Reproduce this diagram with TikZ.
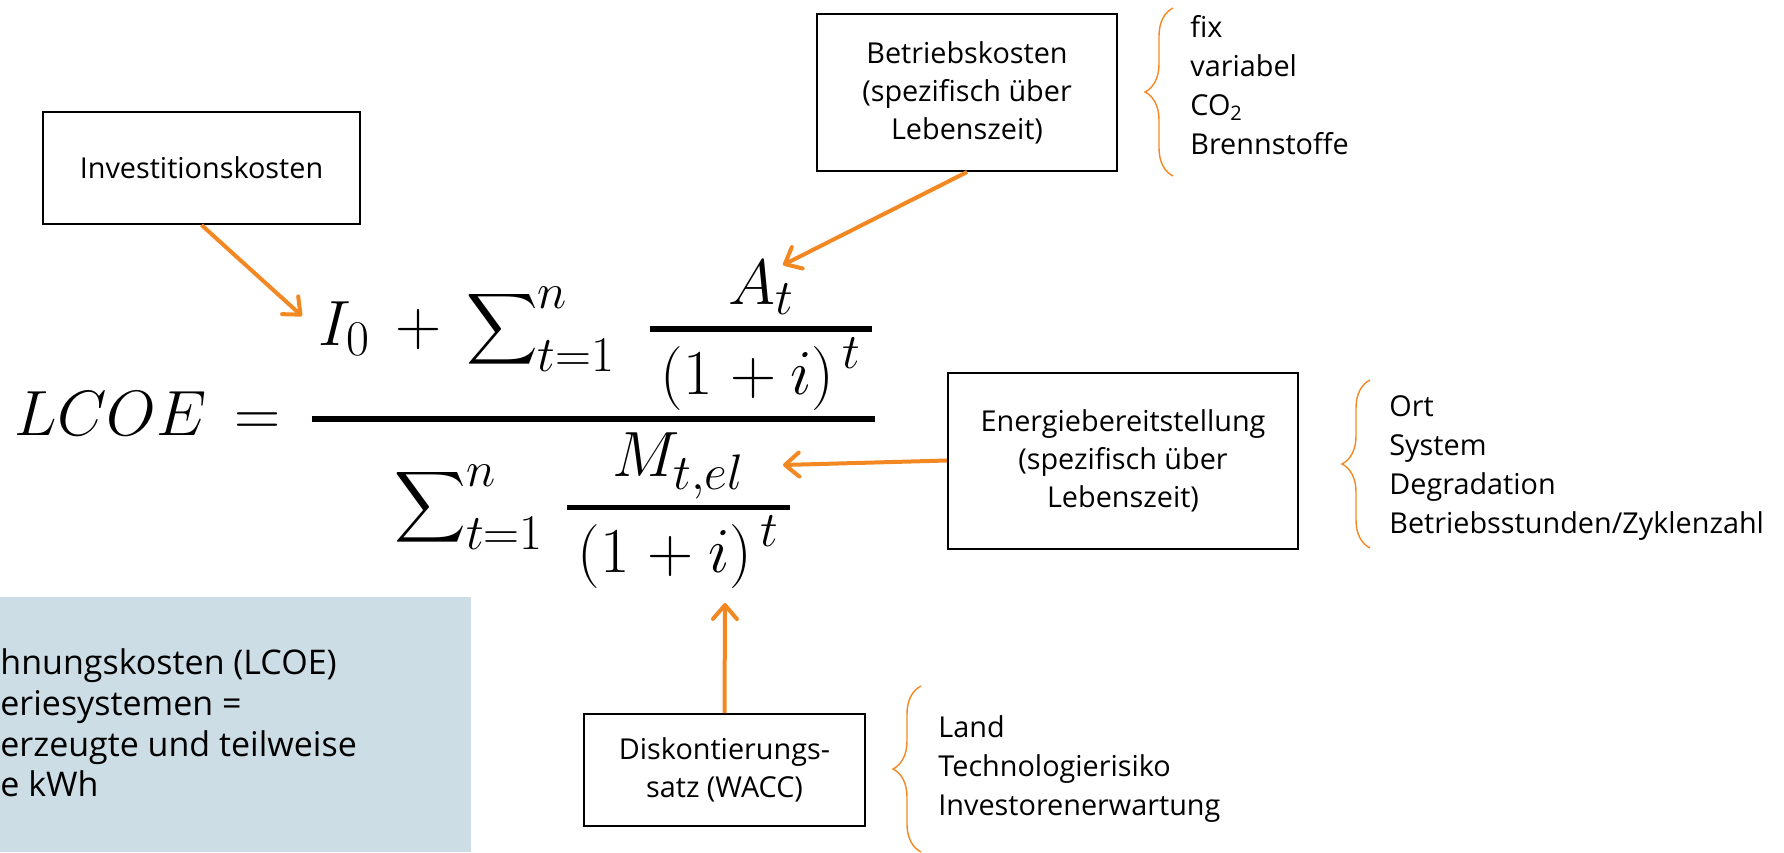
\RequirePackage{fix-cm}
\documentclass[tikz,border=0pt]{standalone}
\usepackage[no-math]{fontspec}
\setmainfont{Open Sans}
\usepackage{amsmath}
\usetikzlibrary{arrows.meta,positioning,decorations.pathreplacing}
\definecolor{lcoeOrange}{RGB}{243,136,35}
\definecolor{lcoeBlue}{RGB}{204,221,229}
\def\defaultscriptratio{.78}
\newcommand{\lcoefrac}[2]{\genfrac{}{}{2.8pt}{1}{\displaystyle #1}{\displaystyle #2}}

\begin{document}
\begin{tikzpicture}[x=0.5pt, y=-0.5pt,
    box/.style={rectangle, draw=black, line width=1pt, align=center,
                font=\fontsize{14.4}{19}\selectfont},
    pfeil/.style={-{Straight Barb[length=7pt,width=12pt,round]},
                  line width=2pt, lcoeOrange},
    klammer/.style={decorate, decoration={brace, amplitude=14pt},
                    line width=0.7pt, lcoeOrange},
    liste/.style={anchor=west, align=left, inner sep=0pt,
                  font=\fontsize{14.4}{19.5}\selectfont}
  ]
  \useasboundingbox (0,0) rectangle (1784,852);

  % Hinweis unten links
  \node[fill=lcoeBlue, inner sep=0pt, minimum width=235.5pt, minimum height=127.5pt] (hinweis) at (235.5,724.5) {};
  \node[liste, font=\fontsize{17}{20.4}\selectfont] (hinweistext) at (0,723)
    {hnungskosten (LCOE)\\eriesystemen =\\erzeugte und teilweise\\e kWh};

  % Formel
  \node[anchor=base west, inner sep=0pt] (formel) at (14,435) {\fontsize{32}{38}\selectfont
    $\displaystyle LCOE \mkern3mu= \mkern3mu\lcoefrac
      {\mkern2mu I_0 \mkern3mu+\mkern3mu \sum\nolimits_{t=1}^{n}\mkern6mu
        \lcoefrac{A_t\rule[-8pt]{0pt}{8pt}}{\mkern3mu(1\mkern1mu+i)^{\mkern3mu t}\mkern3mu}\rule[-31.8pt]{0pt}{31.8pt}}
      {\sum\nolimits_{t=1}^{n}\mkern3mu
        \lcoefrac{M_{t,el}\rule[-10pt]{0pt}{10pt}}{\mkern3mu(1\mkern1mu+i)^{\mkern3mu t}\mkern3mu}\rule{0pt}{48pt}}$};
  \coordinate (tipI) at (302,316);
  \coordinate (tipA) at (783,265);
  \coordinate (tipM) at (783,465);
  \coordinate (tipW) at (725,603);

  % Einflussgroessen
  \node[box, minimum width=158.5pt, minimum height=56pt] (invest) at (201.5,168) {Investitionskosten};
  \node[box, minimum width=150pt, minimum height=78.5pt] (betrieb) at (967,92.5) {Betriebskosten\\(spezifisch über\\Lebenszeit)};
  \node[box, minimum width=175pt, minimum height=88pt] (energie) at (1123,460.5) {Energiebereitstellung\\(spezifisch über\\Lebenszeit)};
  \node[box, minimum width=140.5pt, minimum height=56pt] (diskont) at (724.5,770) {Diskontierungs-\\satz (WACC)};

  \draw[pfeil] (invest.south) -- (tipI);
  \draw[pfeil] (betrieb.south) -- (tipA);
  \draw[pfeil] (energie.west) -- (tipM);
  \draw[pfeil] (diskont.north) -- (tipW);

  % Klammern und Listen
  \draw[klammer] (1173,176) -- (1173,8);
  \draw[klammer] (1370,548) -- (1370,380);
  \draw[klammer] (921,852) -- (921,686);

  \node[liste] (kosten) at (1190,85.5) {fix\\variabel\\CO\textsubscript{2}\\Brennstoffe};
  \node[liste] (faktoren) at (1389,468) {Ort\\System\\Degradation\\Betriebsstunden/Zyklenzahl};
  \node[liste] (risiko) at (938,769) {Land\\Technologierisiko\\Investorenerwartung};
\end{tikzpicture}
\end{document}
